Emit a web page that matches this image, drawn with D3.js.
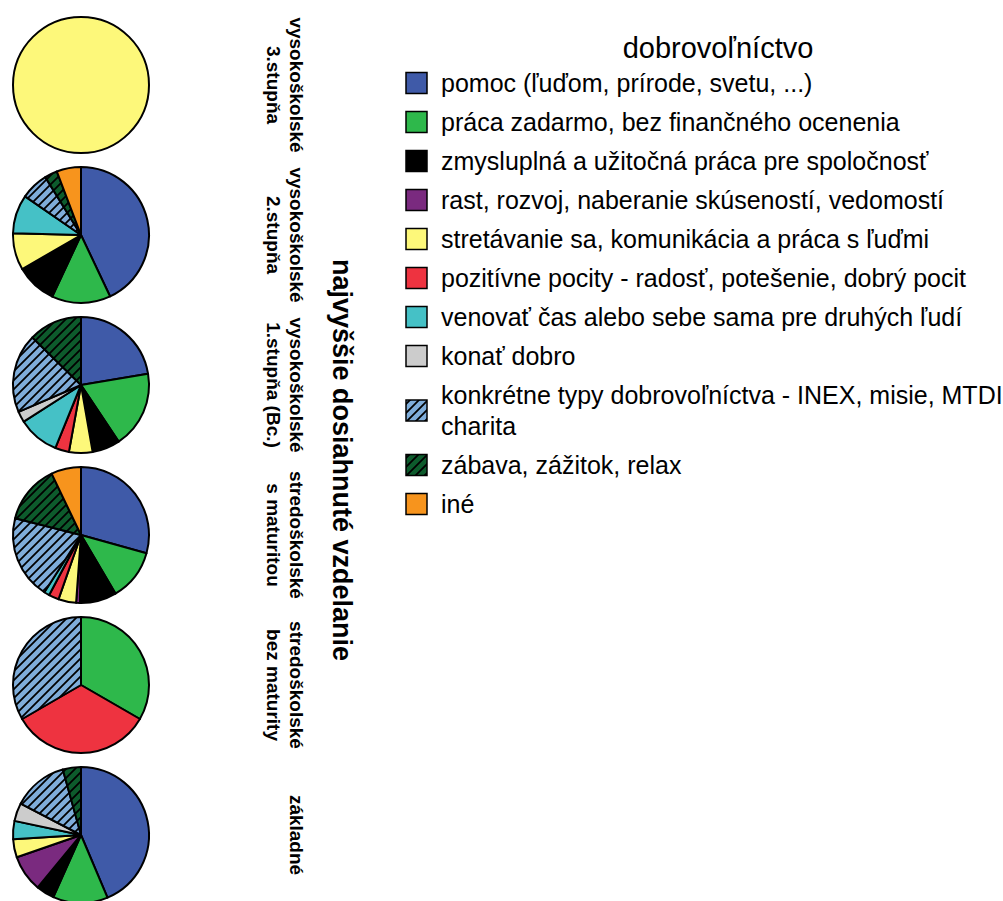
<!DOCTYPE html>
<meta charset="utf-8">
<style>

body {
  margin: 0;
  background: #fff;
}

svg {
  display: block;
}

text {
  font-family: "Liberation Sans", Arial, sans-serif;
  fill: #000;
}

.slice {
  stroke: #000;
  stroke-width: 2;
  stroke-linejoin: round;
}

.level {
  font-size: 19px;
  font-weight: bold;
  text-anchor: middle;
}

.axis-title {
  font-size: 27px;
  font-weight: bold;
  text-anchor: middle;
}

.legend-title {
  font-size: 29px;
  text-anchor: middle;
}

.legend text {
  font-size: 25px;
}

.legend rect {
  stroke: #000;
  stroke-width: 1.5;
}

</style>
<body>
<script src="https://d3js.org/d3.v7.min.js"></script>
<script>

var width = 1003,
    height = 901,
    radius = 68;

/*
  Data - education levels, answers and the share of each answer (%)
*/

var levels = [
  "vysokoškolské\n3.stupňa",
  "vysokoškolské\n2.stupňa",
  "vysokoškolské\n1.stupňa (Bc.)",
  "stredoškolské\ns maturitou",
  "stredoškolské\nbez maturity",
  "základné"
];

var answers = [
  "pomoc (ľuďom, prírode, svetu, ...)",
  "práca zadarmo, bez finančného ocenenia",
  "zmysluplná a užitočná práca pre spoločnosť",
  "rast, rozvoj, naberanie skúseností, vedomostí",
  "stretávanie sa, komunikácia a práca s ľuďmi",
  "pozitívne pocity - radosť, potešenie, dobrý pocit",
  "venovať čas alebo sebe sama pre druhých ľudí",
  "konať dobro",
  "konkrétne typy dobrovoľníctva - INEX, misie, MTDI\ncharita",
  "zábava, zážitok, relax",
  "iné"
];

var colors = ["#3f5aa8", "#2eb84b", "#000000", "#7a2a7f", "#fdf87a", "#ee3340",
              "#45c1c6", "#cccccc", "#7fadda", "#0d5b2c", "#f7941d"];

var hatched = [false, false, false, false, false, false, false, false, true, true, false];

// same order as answers
var vTretí       = [0, 0, 0, 0, 100, 0, 0, 0, 0, 0, 0];
var vDruhý       = [43, 14, 9.7, 0, 8.8, 0, 9.2, 0, 6.6, 3, 5.8];
var vPrvý        = [22.4, 18.3, 6.6, 0, 5.6, 3.3, 9.8, 2.6, 18.8, 12.7, 0];
var vMaturita    = [29.3, 12.2, 8.7, 0.9, 4.2, 2.4, 1.3, 0, 19.9, 13.9, 7.1];
var vBezMaturity = [0, 33.3, 0, 0, 0, 33.3, 0, 0, 33.3, 0, 0];
var vZákladné    = [43.5, 13, 4.3, 8.7, 4.3, 0, 4.3, 4.3, 13, 4.3, 0];

var levelValues = [vTretí, vDruhý, vPrvý, vMaturita, vBezMaturity, vZákladné];

/*
  Scales
*/

var y = d3.scalePoint()
    .domain(levels)
    .range([85, 835]);

var color = d3.scaleOrdinal()
    .domain(answers)
    .range(colors);

function fill(i) {
  return hatched[i] ? "url(#hatch" + i + ")" : color(answers[i]);
}

var pie = d3.pie()
    .sort(null)
    .value(function(d) { return d.value; });

var arc = d3.arc()
    .innerRadius(0)
    .outerRadius(radius);

var svg = d3.select("body").append("svg")
    .attr("width", width)
    .attr("height", height);

svg.append("rect")
    .attr("width", width)
    .attr("height", height)
    .attr("fill", "#fff");

/*
  Hatch patterns
*/

var defs = svg.append("defs");

hatched.forEach(function(h, i) {
  if (!h) return;
  var p = defs.append("pattern")
      .attr("id", "hatch" + i)
      .attr("patternUnits", "userSpaceOnUse")
      .attr("width", 9)
      .attr("height", 9);
  p.append("rect")
      .attr("width", 9)
      .attr("height", 9)
      .attr("fill", colors[i]);
  p.append("path")
      .attr("d", "M-1,1 l2,-2 M0,9 l9,-9 M8,10 l2,-2")
      .attr("stroke", "#000")
      .attr("stroke-width", 1.8);
});

/*
  Pies
*/

levels.forEach(function(level, li) {
  var data = levelValues[li].map(function(v, i) { return {index: i, value: v}; })
      .filter(function(d) { return d.value > 0; });

  var g = svg.append("g")
      .attr("transform", "translate(81," + y(level) + ")");

  g.selectAll("path")
      .data(pie(data))
      .enter().append("path")
      .attr("class", "slice")
      .attr("d", arc)
      .attr("fill", function(d) { return fill(d.data.index); });

  var lines = level.split("\n");
  var t = svg.append("text")
      .attr("class", "level")
      .attr("transform", "translate(290," + y(level) + ") rotate(90)");
  t.selectAll("tspan")
      .data(lines)
      .enter().append("tspan")
      .attr("x", 0)
      .attr("y", function(d, i) { return i * 23; })
      .text(function(d) { return d; });
});

svg.append("text")
    .attr("class", "axis-title")
    .attr("transform", "translate(333," + (y.range()[0] + y.range()[1]) / 2 + ") rotate(90)")
    .text("najvyššie dosiahnuté vzdelanie");

/*
  Legend
*/

svg.append("text")
    .attr("class", "legend-title")
    .attr("x", 718)
    .attr("y", 58)
    .text("dobrovoľníctvo");

var legend = svg.append("g").attr("class", "legend");

var rowTop = 63.5, lineH = 31;

answers.forEach(function(a, i) {
  var lines = a.split("\n");
  var h = 39 + (lines.length - 1) * lineH;
  var cy = rowTop + h / 2;
  rowTop += h;

  legend.append("rect")
      .attr("x", 406)
      .attr("y", cy - 10.5)
      .attr("width", 21)
      .attr("height", 21)
      .attr("fill", fill(i));

  var t = legend.append("text")
      .attr("x", 441)
      .attr("y", cy - (lines.length - 1) * lineH / 2);
  t.selectAll("tspan")
      .data(lines)
      .enter().append("tspan")
      .attr("x", 441)
      .attr("dy", function(d, j) { return j === 0 ? "0.35em" : lineH; })
      .text(function(d) { return d; });
});

</script>
